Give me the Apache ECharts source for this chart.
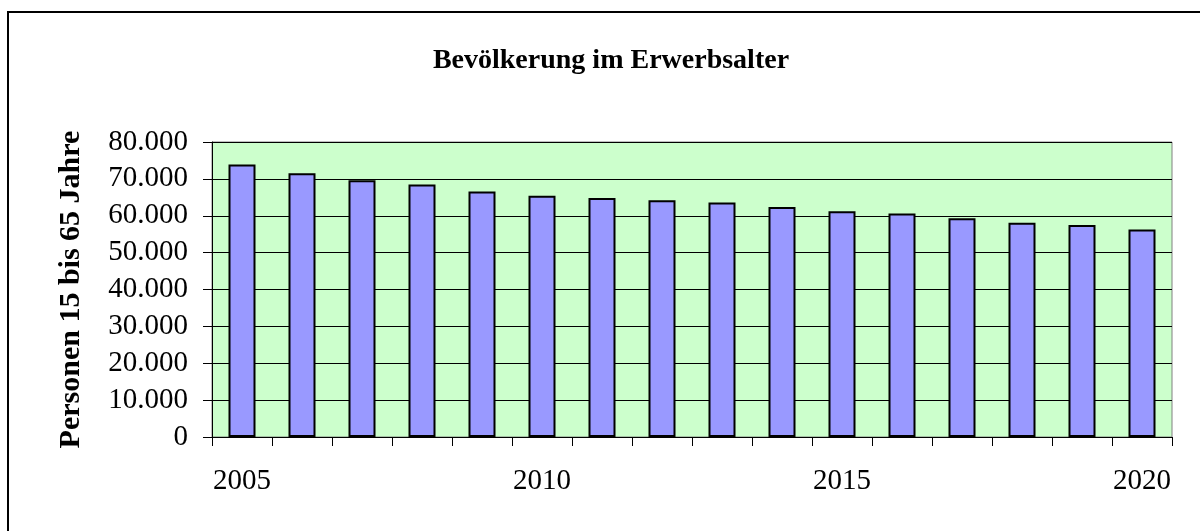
<!DOCTYPE html>
<html>
<head>
<meta charset="utf-8">
<script src="https://cdn.jsdelivr.net/npm/echarts@6/dist/echarts.min.js"></script>
<style>
  html, body { margin: 0; padding: 0; background: #fff; }
  #main { width: 1200px; height: 531px; }
</style>
</head>
<body>
<div id="main"></div>
<script>
// Jahre und Werte (Personen 15 bis 65 Jahre)
const years = ['2005', '2006', '2007', '2008', '2009', '2010', '2011', '2012',
  '2013', '2014', '2015', '2016', '2017', '2018', '2019', '2020'];
const persons = [73900, 71500, 69600, 68500, 66600, 65400, 64800, 64200,
  63600, 62400, 61200, 60600, 59300, 58100, 57500, 56300];
const yTicks = [0, 10000, 20000, 30000, 40000, 50000, 60000, 70000, 80000];

const serif = '"Liberation Serif", "DejaVu Serif", serif';

const chart = echarts.init(document.getElementById('main'));

const option = {
  animation: false,
  backgroundColor: '#fff',
  title: {
    text: 'Bevölkerung im Erwerbsalter',
    left: 606,
    top: 42,
    textAlign: 'center',
    textStyle: { fontFamily: serif, fontSize: 28, fontWeight: 'bold', color: '#000' }
  },
  graphic: [
    {
      type: 'rect',
      shape: { x: 8, y: 12, width: 1220, height: 600 },
      style: { fill: 'none', stroke: '#000', lineWidth: 2 },
      silent: true
    }
  ],
  grid: {
    left: 212, right: 28, top: 142, bottom: 94,
    show: true,
    backgroundColor: '#CCFFCC',
    borderColor: '#808080',
    borderWidth: 1
  },
  xAxis: {
    type: 'category',
    data: years,
    boundaryGap: true,
    axisLine: { lineStyle: { color: '#000', width: 1 } },
    axisTick: { show: true, interval: 0, length: 9, lineStyle: { color: '#000' } },
    axisLabel: {
      interval: 4,
      margin: 30,
      fontFamily: serif,
      fontSize: 29,
      color: '#000'
    }
  },
  yAxis: {
    type: 'value',
    min: yTicks[0],
    max: yTicks[yTicks.length - 1],
    interval: 10000,
    name: 'Personen 15 bis 65 Jahre',
    nameLocation: 'middle',
    nameGap: 126,
    nameTextStyle: { fontFamily: serif, fontSize: 30, fontWeight: 'bold', color: '#000' },
    axisLine: { show: true, lineStyle: { color: '#000', width: 1 } },
    axisTick: { show: true, length: 9, lineStyle: { color: '#000' } },
    splitLine: { show: true, lineStyle: { color: '#000', width: 1 } },
    axisLabel: {
      margin: 24,
      fontFamily: serif,
      fontSize: 29,
      color: '#000',
      formatter: function (v) {
        return v.toLocaleString('de-DE');
      }
    }
  },
  series: [
    {
      type: 'bar',
      data: persons,
      barCategoryGap: '55%',
      itemStyle: { color: '#9999FF', borderColor: '#000', borderWidth: 2 }
    }
  ]
};

chart.setOption(option);
</script>
</body>
</html>
